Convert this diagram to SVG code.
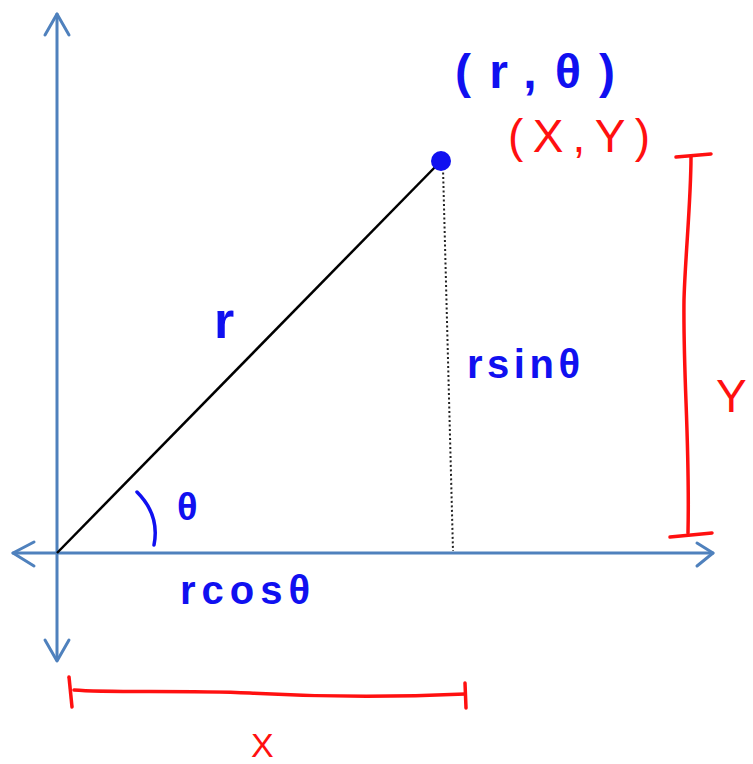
<svg xmlns="http://www.w3.org/2000/svg" width="753" height="764" viewBox="0 0 753 764">
<style>
.axis{stroke:#4F81BD;stroke-width:3;fill:none;stroke-linecap:round;stroke-linejoin:round}
.red{stroke:#FF1010;stroke-width:3.5;fill:none;stroke-linecap:round;stroke-linejoin:round}
.blu{stroke:#1010F0;stroke-width:3.5;fill:none;stroke-linecap:round}
.tb{fill:#1010F0;font-family:"Liberation Sans",Arial,sans-serif;font-weight:bold}
.tr{fill:#FF1010;font-family:"Liberation Sans",Arial,sans-serif}
</style>
<rect width="753" height="764" fill="#fff"/>
<g id="connectors">
<g id="axes">
<line class="axis" x1="57" y1="14" x2="57" y2="660"/>
<polyline class="axis" points="45,35 57,14 69,35"/>
<polyline class="axis" points="45,640 57,661 69,640"/>
<line class="axis" x1="13" y1="553" x2="713" y2="553"/>
<polyline class="axis" points="34,542 13,553 34,566"/>
<polyline class="axis" points="697,543 713,553 697,566"/>
</g>
<line id="radius" x1="57" y1="553" x2="440" y2="162" stroke="#000" stroke-width="2.5"/>
<line id="drop" x1="443" y1="168" x2="453" y2="551" stroke="#222" stroke-width="2" stroke-dasharray="2 2.5"/>
<path id="angle-arc" class="blu" d="M137,492 Q160,515 154,545"/>
<g id="x-bracket">
<path class="red" d="M69,677 L72,707"/>
<path class="red" d="M74,690 C110,693 180,690 250,693 C320,697 400,697 465,694"/>
<path class="red" d="M465,683 L466,708"/>
</g>
<g id="y-bracket">
<path class="red" d="M676,157 L711,154"/>
<path class="red" d="M691,157 C691,200 685,260 684,300 C683,380 690,440 688,533"/>
<path class="red" d="M670,537 L712,533"/>
</g>
</g>
<g id="point">
<circle cx="441" cy="161" r="10" fill="#1010F0"/>
</g>
<g id="label-polar"><text class="tb" x="455" y="88" font-size="48" textLength="160" lengthAdjust="spacing">(r,θ)</text></g>
<g id="label-cart"><text class="tr" x="508" y="152" font-size="46" textLength="142" lengthAdjust="spacing">(X,Y)</text></g>
<g id="label-r"><text class="tb" x="214" y="338" font-size="52">r</text></g>
<g id="label-rsin"><text class="tb" x="467" y="378" font-size="40" textLength="113" lengthAdjust="spacing">rsinθ</text></g>
<g id="label-theta"><text class="tb" x="177" y="520" font-size="38">θ</text></g>
<g id="label-rcos"><text class="tb" x="180" y="604" font-size="40" textLength="130" lengthAdjust="spacing">rcosθ</text></g>
<g id="label-y"><text class="tr" x="716" y="412" font-size="46">Y</text></g>
<g id="label-x"><text class="tr" x="251" y="757" font-size="34">X</text></g>
</svg>
